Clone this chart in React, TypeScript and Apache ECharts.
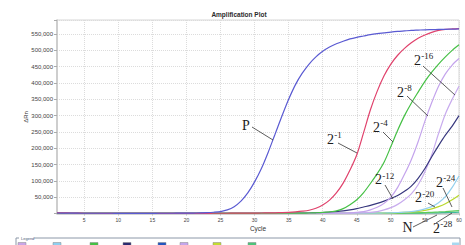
import React, { useEffect, useRef } from 'react';
import * as echarts from 'echarts';

// ---------- data ----------
const CYCLES = [
  1, 2, 3, 4, 5, 6, 7, 8, 9, 10, 11, 12, 13, 14, 15, 16, 17, 18, 19, 20,
  21, 22, 23, 24, 25, 26, 27, 28, 29, 30, 31, 32, 33, 34, 35, 36, 37, 38, 39, 40,
  41, 42, 43, 44, 45, 46, 47, 48, 49, 50, 51, 52, 53, 54, 55, 56, 57, 58, 59, 60,
];
const X_TICKS = [5, 10, 15, 20, 25, 30, 35, 40, 45, 50, 55, 60];
const Y_MAX = 593000;
const Y_STEP = 50000;

const P = [
  1500, 1200, 1000, 900, 800, 800, 700, 700, 700, 600,
  600, 600, 600, 600, 600, 700, 700, 800, 900, 1000,
  1300, 1800, 2500, 3800, 6000, 11000, 21000, 38000, 63000, 97000,
  138000, 188000, 243000, 298000, 350000, 395000, 430000, 458000, 480000, 497000,
  510000, 520000, 528000, 535000, 540000, 544000, 548000, 551000, 553500, 556000,
  558000, 559500, 561000, 562000, 563000, 563500, 564000, 564500, 565000, 565500,
];
const D1 = [
  2500, 2000, 1500, 1000, 800, 700, 700, 600, 600, 600,
  600, 600, 600, 600, 600, 600, 600, 600, 600, 600,
  600, 600, 600, 700, 700, 800, 900, 1000, 1100, 1300,
  1500, 1800, 2200, 2800, 3600, 5000, 7000, 10000, 16000, 26000,
  41000, 63000, 93000, 133000, 180000, 248000, 318000, 375000, 422000, 458000,
  485000, 506000, 523000, 537000, 547000, 555000, 561000, 564000, 565500, 566500,
];
const D4 = [
  900, 800, 700, 700, 650, 600, 600, 600, 600, 600,
  600, 600, 600, 600, 600, 600, 600, 600, 600, 600,
  600, 600, 600, 600, 600, 600, 600, 600, 650, 650,
  700, 700, 750, 800, 850, 900, 1000, 1500, 2200, 3200,
  5000, 8000, 15000, 27000, 42000, 64000, 92000, 122000, 157000, 205000,
  255000, 300000, 338000, 372000, 405000, 433000, 458000, 480000, 500000, 517000,
];
const D8 = [
  700, 700, 650, 600, 600, 600, 600, 600, 600, 600,
  600, 600, 600, 600, 600, 600, 600, 600, 600, 600,
  600, 600, 600, 600, 600, 600, 600, 600, 600, 600,
  600, 600, 650, 650, 700, 700, 750, 750, 800, 850,
  900, 1200, 1500, 2000, 3500, 6000, 11000, 19000, 31000, 50000,
  80000, 120000, 165000, 220000, 283000, 340000, 390000, 428000, 455000, 475000,
];
const D12 = [
  800, 700, 700, 650, 600, 600, 600, 600, 600, 600,
  600, 600, 600, 600, 600, 600, 600, 600, 600, 600,
  600, 600, 600, 600, 600, 600, 600, 600, 650, 650,
  700, 750, 800, 850, 900, 1000, 1200, 1500, 2200, 3000,
  4200, 5800, 8000, 11000, 15000, 20000, 25000, 31000, 38000, 46000,
  55000, 68000, 84000, 108000, 138000, 174000, 208000, 240000, 268000, 300000,
];
const D16 = [
  700, 650, 600, 600, 600, 600, 600, 600, 600, 600,
  600, 600, 600, 600, 600, 600, 600, 600, 600, 600,
  600, 600, 600, 600, 600, 600, 600, 600, 600, 600,
  600, 600, 600, 650, 650, 700, 700, 700, 750, 750,
  800, 900, 1000, 1200, 1500, 2000, 3500, 6000, 11000, 18000,
  28000, 42000, 60000, 88000, 128000, 180000, 245000, 305000, 350000, 390000,
];
const D20 = [
  1200, 900, 800, 700, 600, 600, 600, 600, 600, 600,
  600, 600, 600, 600, 600, 600, 600, 600, 600, 600,
  600, 600, 600, 600, 600, 600, 600, 600, 600, 600,
  600, 600, 600, 600, 600, 650, 650, 650, 700, 700,
  700, 700, 750, 800, 850, 900, 1000, 1200, 1600, 2200,
  3000, 4200, 6000, 9000, 14000, 21000, 33000, 52000, 80000, 115000,
];
const D24 = [
  800, 700, 650, 600, 600, 600, 600, 600, 600, 600,
  600, 600, 600, 600, 600, 600, 600, 600, 600, 600,
  600, 600, 600, 600, 600, 600, 600, 600, 600, 600,
  600, 600, 600, 600, 600, 600, 600, 600, 600, 600,
  600, 600, 650, 700, 750, 800, 900, 1100, 1400, 1800,
  2400, 3200, 4500, 6500, 9500, 14000, 21000, 30000, 42000, 56000,
];
const DN = [
  1000, 900, 800, 700, 700, 700, 700, 700, 700, 700,
  700, 700, 700, 700, 700, 700, 700, 700, 700, 700,
  700, 700, 700, 700, 700, 700, 700, 700, 700, 700,
  700, 700, 700, 700, 700, 700, 700, 700, 700, 700,
  700, 700, 700, 700, 700, 750, 750, 800, 800, 850,
  900, 1000, 1100, 1300, 1500, 1800, 2200, 2700, 3300, 4000,
];
const D28 = [
  900, 800, 700, 650, 600, 600, 600, 600, 600, 600,
  600, 600, 600, 600, 600, 600, 600, 600, 600, 600,
  600, 600, 600, 600, 600, 600, 600, 600, 600, 600,
  600, 600, 600, 600, 600, 600, 600, 600, 600, 600,
  600, 600, 600, 650, 650, 700, 700, 750, 800, 900,
  1000, 1300, 1700, 2200, 2900, 3700, 4700, 6000, 7500, 9000,
];

const SERIES = [
  { name: 'N', data: DN, color: '#3fb89c' },
  { name: '2^-28', data: D28, color: '#5ccc5c' },
  { name: '2^-24', data: D24, color: '#b8d82c' },
  { name: '2^-20', data: D20, color: '#92d0ee' },
  { name: '2^-16', data: D16, color: '#c8acee' },
  { name: '2^-12', data: D12, color: '#38387e' },
  { name: '2^-8', data: D8, color: '#c4a4ec' },
  { name: '2^-4', data: D4, color: '#46c046' },
  { name: '2^-1', data: D1, color: '#e0426c' },
  { name: 'P', data: P, color: '#5a5ad2' },
];

const LEGEND_SWATCHES = [
  '#c9a6e8', '#8fcff0', '#44c144', '#2b2b70', '#2256c0',
  '#c4a6ec', '#c2dc30', '#4cc47a',
];

const fmt = (v: number) => String(v).replace(/\B(?=(\d{3})+(?!\d))/g, ',');

const SERIF = '"Liberation Serif", "Times New Roman", serif';
const SANS = '"Liberation Sans", Arial, sans-serif';

function txt(x: number, y: number, text: string, size: number, extra: any = {}) {
  return {
    type: 'text',
    x,
    y,
    z: 100,
    style: {
      text,
      fontSize: size,
      fontFamily: SERIF,
      fill: '#1c1c1c',
      align: 'left',
      verticalAlign: 'middle',
      ...extra,
    },
  };
}

function pow2(x: number, cy: number, sup: string) {
  return [txt(x, cy, '2', 14), txt(x + 7.2, cy - 4, sup, 9)];
}

function pointer(x1: number, y1: number, x2: number, y2: number) {
  return {
    type: 'line',
    z: 100,
    shape: { x1, y1, x2, y2 },
    style: { stroke: '#333', lineWidth: 0.8 },
  };
}

export default function App() {
  const ref = useRef<HTMLDivElement>(null);

  useEffect(() => {
    document.body.style.margin = '0';
    if (!ref.current) return;
    const chart = echarts.init(ref.current, undefined, { renderer: 'svg' });

    const isTick = (_i: number, v: any) => X_TICKS.includes(Number(v));

    const swatchXs = [18, 53, 90, 123, 158, 180, 213, 248];
    const graphic: any[] = [
      // title
      {
        type: 'text', x: 239, y: 14,
        style: { text: 'Amplification Plot', fontSize: 6.5, fontWeight: 'bold', fontFamily: SANS, fill: '#2a2a2a', align: 'center', verticalAlign: 'middle' },
      },
      // axis names
      {
        type: 'text', x: 258, y: 228,
        style: { text: 'Cycle', fontSize: 6.5, fontFamily: SANS, fill: '#333', align: 'center', verticalAlign: 'middle' },
      },
      {
        type: 'text', x: 26, y: 117, rotation: Math.PI / 2,
        style: { text: 'ΔRn', fontSize: 6, fontFamily: SANS, fill: '#333', align: 'center', verticalAlign: 'middle' },
      },
      // legend frame
      {
        type: 'rect', shape: { x: 16, y: 238, width: 444, height: 20 },
        style: { fill: 'none', stroke: '#8c98a8', lineWidth: 1 },
      },
      { type: 'rect', shape: { x: 19, y: 236, width: 15, height: 4 }, style: { fill: '#fff' } },
      {
        type: 'text', x: 21, y: 238.5,
        style: { text: 'Legend', fontSize: 4, fontFamily: SANS, fill: '#4a5a7a', align: 'left', verticalAlign: 'middle' },
      },
      ...LEGEND_SWATCHES.map((c, i) => ({
        type: 'rect', shape: { x: swatchXs[i], y: 242.5, width: 8, height: 8 },
        style: { fill: c, stroke: '#888', lineWidth: 0.5 },
      })),
      {
        type: 'rect', shape: { x: 452, y: 242.5, width: 7, height: 8 },
        style: { fill: '#a8d8f0' },
      },
      // annotations
      txt(246, 125, 'P', 14, { align: 'center' }),
      pointer(252, 127, 273, 140),
      ...pow2(327, 139, '-1'),
      pointer(338, 143, 357, 153),
      ...pow2(373, 127, '-4'),
      pointer(383, 132, 393, 142),
      ...pow2(397, 92, '-8'),
      pointer(407, 96, 428, 116),
      ...pow2(414, 60, '-16'),
      pointer(423, 66, 455, 95),
      ...pow2(375, 179.5, '-12'),
      pointer(385, 185, 393, 199),
      ...pow2(415, 197.5, '-20'),
      pointer(428, 203, 435, 207),
      ...pow2(436, 182, '-24'),
      pointer(443, 188, 452, 207),
      txt(407.5, 227, 'N', 14, { align: 'center' }),
      pointer(413, 227, 437, 215),
      ...pow2(433, 228, '-28'),
      pointer(436, 223, 452, 213),
    ];

    chart.setOption({
      animation: false,
      backgroundColor: '#fff',
      grid: {
        left: 57, right: 6, top: 20, bottom: 31.5,
        show: true, borderColor: '#d6d6d6', borderWidth: 1,
      },
      xAxis: {
        type: 'category',
        data: CYCLES.map(String),
        boundaryGap: false,
        axisLine: { show: true, lineStyle: { color: '#c4c4c4', width: 1.5 } },
        axisTick: { show: true, interval: isTick, length: 2, lineStyle: { color: '#bbb' } },
        axisLabel: { interval: isTick, fontSize: 5, color: '#444', margin: 4, fontFamily: SANS },
        splitLine: { show: true, interval: isTick, lineStyle: { color: '#dcdcdc', type: 'dotted', width: 1 } },
      },
      yAxis: {
        type: 'value',
        min: 0,
        max: Y_MAX,
        interval: Y_STEP,
        axisLine: { show: true, lineStyle: { color: '#c4c4c4', width: 1.5 } },
        axisTick: { show: true, length: 3, lineStyle: { color: '#aaa' } },
        axisLabel: {
          fontSize: 6, color: '#444', margin: 4, fontFamily: SANS,
          formatter: (v: number) => (v === 0 || v > 560000 ? '' : fmt(v)),
        },
        splitLine: { show: true, lineStyle: { color: '#dcdcdc', type: 'dotted', width: 1 } },
      },
      series: SERIES.map((s) => ({
        name: s.name,
        type: 'line',
        data: s.data,
        showSymbol: false,
        symbol: 'none',
        smooth: 0.3,
        lineStyle: { color: s.color, width: 1.2 },
        itemStyle: { color: s.color },
      })),
      graphic,
    });

    return () => chart.dispose();
  }, []);

  return (
    <div
      ref={ref}
      style={{ position: 'absolute', left: 0, top: 0, width: 465, height: 245 }}
    />
  );
}
